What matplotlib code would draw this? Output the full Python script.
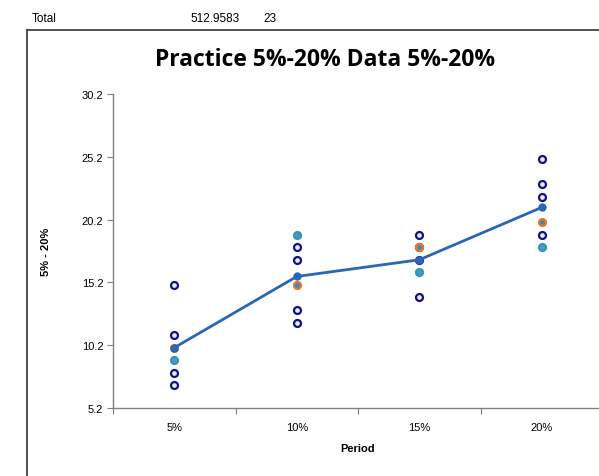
import matplotlib
matplotlib.use("Agg")
import matplotlib.pyplot as plt
from matplotlib.lines import Line2D
import numpy as np

# Categories and values
periods = ["5%", "10%", "15%", "20%"]
navy_vals = [[15, 11, 8, 7], [18, 17, 13, 12], [19, 18, 17, 14], [25, 23, 22, 19]]
orange_vals = [10, 15, 18, 20]
teal_vals = [9, 19, 16, 18]
mean_vals = [10.0, 15.67, 17.0, 21.17]
yticks = [5.2, 10.2, 15.2, 20.2, 25.2, 30.2]

plt.rcParams["font.family"] = ["Liberation Sans", "DejaVu Sans"]

fig = plt.figure(figsize=(5.99, 4.77), dpi=100)
ax = fig.add_axes([113 / 599, 68 / 477, 490 / 599, 314 / 477])

x = np.arange(len(periods))

# individual observations
for i, vals in enumerate(navy_vals):
    ax.plot([x[i]] * len(vals), vals, "o", linestyle="none", ms=5,
            mfc="#e8f0fb", mec="#12127e", mew=1.6, zorder=3)
ax.plot(x, teal_vals, "o", linestyle="none", ms=5,
        mfc="#5b8fd0", mec="#2a9bb0", mew=1.6, zorder=3)
ax.plot(x, orange_vals, "o", linestyle="none", ms=5,
        mfc="#3a86d6", mec="#e8781e", mew=1.6, zorder=4)

# mean line
ax.plot(x, mean_vals, "-o", color="#2a66b4", lw=2, ms=5, zorder=5)

ax.set_xlim(-0.5, len(periods) - 0.5)
ax.set_ylim(5.2, 30.2)
ax.set_yticks(yticks)
ax.set_yticklabels([f"{v:.1f}" for v in yticks], fontsize=8)
ax.set_xticks(np.arange(-0.5, len(periods), 1.0))
ax.set_xticklabels([])
ax.set_xticks(x, minor=True)
ax.set_xticklabels(periods, minor=True, fontsize=8)
ax.tick_params(axis="x", which="minor", length=0, pad=10)
ax.tick_params(axis="x", which="major", length=4, color="#808080")
ax.tick_params(axis="y", length=4, color="#808080", pad=3)

for s in ["top", "right"]:
    ax.spines[s].set_visible(False)
for s in ["left", "bottom"]:
    ax.spines[s].set_color("#808080")
    ax.spines[s].set_linewidth(1)

ax.set_xlabel("Period", fontsize=8, fontweight="bold", labelpad=8)
ax.set_ylabel("5% - 20%", fontsize=8, fontweight="bold", labelpad=22)

fig.text(325 / 599, 1 - 60 / 477, "Practice 5%-20% Data 5%-20%", ha="center",
         va="center", fontsize=16.5, fontweight="bold", family=["Open Sans", "DejaVu Sans"])

# spreadsheet row above the chart
fig.text(32 / 599, 1 - 19 / 477, "Total", fontsize=8.5, va="center")
fig.text(190 / 599, 1 - 19 / 477, "512.9583", fontsize=8.5, va="center")
fig.text(263 / 599, 1 - 19 / 477, "23", fontsize=8.5, va="center")

# chart area border
fig.add_artist(Line2D([27 / 599, 27 / 599], [0, 1 - 31 / 477], color="#333333", lw=1.2))
fig.add_artist(Line2D([27 / 599, 1], [1 - 31 / 477, 1 - 31 / 477], color="#333333", lw=1.2))

fig.savefig("out.png", dpi=100)
